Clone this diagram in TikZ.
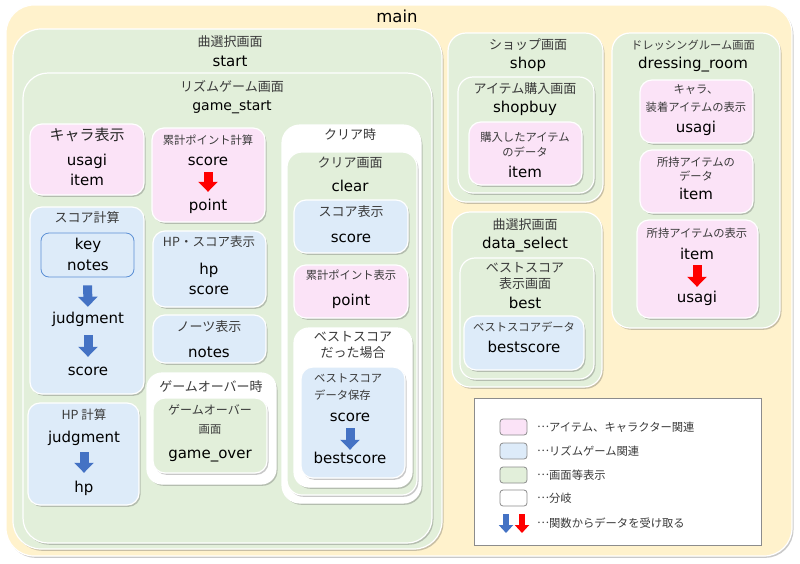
\documentclass[tikz,border=0pt]{standalone}
\usepackage{fontspec}
\setmainfont{DejaVu Sans}
\newfontfamily\jp{Noto Sans CJK JP}
\usetikzlibrary{arrows.meta,shadows,fit}
\definecolor{mainY}{HTML}{FFF2CC}
\definecolor{grn}{HTML}{E2EFDA}
\definecolor{blu}{HTML}{DDEBF9}
\definecolor{pnk}{HTML}{FBE3F7}
\definecolor{arrB}{HTML}{4472C4}
\definecolor{arrR}{HTML}{FF0000}
\definecolor{jptext}{HTML}{3A3A3A}
\definecolor{keyline}{HTML}{5B8FD5}
\newcommand\mydots{\raisebox{3.5pt}{…}}
\begin{document}
\begin{tikzpicture}[x=1pt,y=-1pt,
  box/.style={draw=white, line width=1.2pt, rounded corners=#1, inner sep=0pt,
    drop shadow={shadow xshift=1.5pt, shadow yshift=-1.8pt, opacity=0.3, fill=black!70}},
  box/.default=12pt,
  lat/.style={font=\fontsize{15}{18}\selectfont, text=black, inner sep=0pt, text height=12.5pt, text depth=1.5pt},
  jpm/.style={font=\jp\fontsize{13}{16}\selectfont, text=jptext, inner sep=0pt},
  jps/.style={font=\jp\fontsize{11.3}{14}\selectfont, text=jptext, inner sep=0pt},
  barB/.style={draw=arrB, line width=9pt, -{Triangle[width=19pt,length=10pt]}},
  barR/.style={draw=arrR, line width=9pt, -{Triangle[width=19pt,length=10pt]}},
  legB/.style={draw=arrB, line width=6.5pt, -{Triangle[width=14pt,length=8pt]}},
  legR/.style={draw=arrR, line width=6.5pt, -{Triangle[width=14pt,length=8pt]}},
  swatch/.style={draw=black!45, line width=0.8pt, rounded corners=3pt, inner sep=0pt},
  legtxt/.style={font=\jp\fontsize{11.3}{14}\selectfont, text=jptext, inner sep=0pt, anchor=west}
]
\useasboundingbox (0,0) rectangle (800,563);

% ---------- main ----------
\node[box=28pt, fill=mainY, fit={(6,5) (792,556)}] (mainbox) {};
\node[lat, font=\fontsize{16.5}{18}\selectfont] (tmain) at (397,17) {main};

% ---------- start ----------
\node[box=28pt, fill=grn, fit={(13,29) (442,549)}] (startbox) {};
\node[jpm] (tstartjp) at (230,42) {曲選択画面};
\node[lat] (tstart) at (230,61) {start};

\node[box=25pt, fill=grn, fit={(23,73) (432,543)}] (gsbox) {};
\node[jpm] (tgsjp) at (232,86) {リズムゲーム画面};
\node[lat, font=\fontsize{14}{16}\selectfont] (tgs) at (232,105) {game\_start};

% キャラ表示
\node[box, fill=pnk, fit={(30,124) (144,195)}] (charabox) {};
\node[jpm, font=\jp\fontsize{15}{18}\selectfont, text=black!85] (tchara) at (87,135) {キャラ表示};
\node[lat] (cusagi) at (87,160) {usagi};
\node[lat] (citem) at (87,180) {item};

% 累計ポイント計算
\node[box, fill=pnk, fit={(152,128) (265,222)}] (kpbox) {};
\node[jps] (tkp) at (208,140) {累計ポイント計算};
\node[lat] (kscore) at (208,160) {score};
\node[lat] (kpoint) at (208,205) {point};
\draw[barR, shorten <=5pt, shorten >=6pt] (kscore.south) -- (kpoint.north);

% スコア計算
\node[box, fill=blu, fit={(30,207) (144,394)}] (scbox) {};
\node[jpm] (tsc) at (87,218) {スコア計算};
\node[draw=keyline, line width=0.8pt, fill=blu, rounded corners=8pt, inner sep=0pt, fit={(41,233) (134,277)}] (keybox) {};
\node[lat] (skey) at (88,244) {key};
\node[lat] (snotes) at (88,265) {notes};
\node[lat] (sjudg) at (88,318) {judgment};
\node[lat] (sscore) at (88,370) {score};
\draw[barB, shorten <=8pt, shorten >=4pt] (keybox.south) -- (sjudg.north);
\draw[barB, shorten <=10pt, shorten >=6pt] (sjudg.south) -- (sscore.north);

% HP 計算
\node[box, fill=blu, fit={(28,403) (139,505)}] (hpbox) {};
\node[jpm, font=\jp\fontsize{12.5}{15}\selectfont] (thp) at (84,415) {HP 計算};
\node[lat] (hjudg) at (84,437) {judgment};
\node[lat] (hhp) at (84,487) {hp};
\draw[barB, shorten <=8pt, shorten >=7pt] (hjudg.south) -- (hhp.north);

% HP・スコア表示
\node[box, fill=blu, fit={(153,231) (266,307)}] (hsbox) {};
\node[jpm, font=\jp\fontsize{12.5}{15}\selectfont] (ths) at (209,242) {HP・スコア表示};
\node[lat] (hshp) at (209,269) {hp};
\node[lat] (hsscore) at (209,289) {score};

% ノーツ表示
\node[box, fill=blu, fit={(153,315) (266,363)}] (ntbox) {};
\node[jpm] (tnt) at (209,327) {ノーツ表示};
\node[lat] (ntnotes) at (209,352) {notes};

% ゲームオーバー時
\node[box=15pt, fill=white, fit={(147,373) (276,484)}] (gobr) {};
\node[jpm] (tgobr) at (211,387) {ゲームオーバー時};
\node[box, fill=grn, fit={(153,398) (267,473)}] (gobox) {};
\node[jpm, font=\jp\fontsize{12}{15}\selectfont] (tgo1) at (210,410) {ゲームオーバー};
\node[jps] (tgo2) at (210,430) {画面};
\node[lat] (tgo) at (210,453) {game\_over};

% クリア時
\node[box=18pt, fill=white, fit={(282,125) (421,503)}] (clbr) {};
\node[jpm] (tclbr) at (350,135) {クリア時};
\node[box=15pt, fill=grn, fit={(287,152) (417,495)}] (clbox) {};
\node[jpm] (tcljp) at (350,163) {クリア画面};
\node[lat] (tcl) at (350,186) {clear};

\node[box, fill=blu, fit={(294,200) (408,253)}] (csbox) {};
\node[jpm] (tcs) at (351,212) {スコア表示};
\node[lat] (csscore) at (351,237) {score};

\node[box, fill=pnk, fit={(294,265) (408,318)}] (cpbox) {};
\node[jps] (tcp) at (351,275) {累計ポイント表示};
\node[lat] (cppoint) at (351,300) {point};

\node[box=15pt, fill=white, fit={(294,328) (412,487)}] (bsbr) {};
\node[jpm] (tbsbr1) at (353,337) {ベストスコア};
\node[jpm] (tbsbr2) at (353,353) {だった場合};
\node[box, fill=blu, fit={(301,367) (405,478)}] (bsbox) {};
\node[jps, anchor=west] (tbs1) at (314,378) {ベストスコア};
\node[jps, anchor=west] (tbs2) at (314,395) {データ保存};
\node[lat] (bsscore) at (350,416) {score};
\node[lat] (bsbest) at (350,458) {bestscore};
\draw[barB, shorten <=5pt, shorten >=1pt] (bsscore.south) -- (bsbest.north);

% ---------- shop ----------
\node[box=18pt, fill=grn, fit={(448,33) (603,202)}] (shopbox) {};
\node[jpm] (tshopjp) at (528,45) {ショップ画面};
\node[lat] (tshop) at (528,63) {shop};
\node[box=15pt, fill=grn, fit={(458,77) (594,193)}] (sbbox) {};
\node[jpm] (tsbjp) at (525,89) {アイテム購入画面};
\node[lat] (tsb) at (525,107) {shopbuy};
\node[box, fill=pnk, fit={(469,122) (582,185)}] (sibox) {};
\node[jps] (tsi1) at (525,137) {購入したアイテム};
\node[jps] (tsi2) at (525,152) {のデータ};
\node[lat] (sitem) at (525,172) {item};

% ---------- data_select ----------
\node[box=18pt, fill=grn, fit={(452,212) (602,387)}] (dsbox) {};
\node[jpm] (tdsjp) at (525,225) {曲選択画面};
\node[lat] (tds) at (525,243) {data\_select};
\node[box=15pt, fill=grn, fit={(460,258) (594,379)}] (bestbox) {};
\node[jpm] (tbest1) at (525,268) {ベストスコア};
\node[jpm] (tbest2) at (525,284) {表示画面};
\node[lat] (tbest) at (525,303) {best};
\node[box, fill=blu, fit={(464,316) (584,370)}] (bdbox) {};
\node[jps] (tbd) at (524,327) {ベストスコアデータ};
\node[lat] (bdbest) at (524,347) {bestscore};

% ---------- dressing_room ----------
\node[box=18pt, fill=grn, fit={(612,33) (780,328)}] (drbox) {};
\node[jps] (tdrjp) at (693,45) {ドレッシングルーム画面};
\node[lat] (tdr) at (693,63) {dressing\_room};
\node[box, fill=pnk, fit={(640,80) (753,143)}] (dubox) {};
\node[jps] (tdu1) at (696,90) {キャラ、};
\node[jps] (tdu2) at (696,107) {装着アイテムの表示};
\node[lat] (duusagi) at (696,127) {usagi};
\node[box, fill=pnk, fit={(640,150) (753,213)}] (dibox) {};
\node[jps] (tdi1) at (696,162) {所持アイテムの};
\node[jps] (tdi2) at (696,176) {データ};
\node[lat] (diitem) at (696,194) {item};
\node[box, fill=pnk, fit={(637,220) (758,318)}] (dxbox) {};
\node[jps] (tdx) at (697,233) {所持アイテムの表示};
\node[lat] (dxitem) at (697,254) {item};
\node[lat] (dxusagi) at (697,297) {usagi};
\draw[barR, shorten <=4pt, shorten >=3pt] (dxitem.south) -- (dxusagi.north);

% ---------- legend ----------
\node[draw=black!45, line width=0.8pt, fill=white, inner sep=0pt, fit={(474,398) (761,545)}] (legend) {};
\node[swatch, fill=pnk, minimum width=27pt, minimum height=16pt] (sw1) at (513.5,427) {};
\node[swatch, fill=blu, minimum width=27pt, minimum height=16pt] (sw2) at (513.5,451) {};
\node[swatch, fill=grn, minimum width=27pt, minimum height=16pt] (sw3) at (513.5,475) {};
\node[swatch, fill=white, minimum width=27pt, minimum height=16pt] (sw4) at (513.5,498) {};
\node[legtxt] (lt1) at (537,427) {\mydots アイテム、キャラクター関連};
\node[legtxt] (lt2) at (537,451) {\mydots リズムゲーム関連};
\node[legtxt] (lt3) at (537,475) {\mydots 画面等表示};
\node[legtxt] (lt4) at (537,498) {\mydots 分岐};
\node[legtxt] (lt5) at (537,523) {\mydots 関数からデータを受け取る};
\coordinate (lbA) at (506,514);
\coordinate (lbB) at (506,533);
\coordinate (lrA) at (522,514);
\coordinate (lrB) at (522,533);
\draw[legB] (lbA) -- (lbB);
\draw[legR] (lrA) -- (lrB);
\end{tikzpicture}
\end{document}
